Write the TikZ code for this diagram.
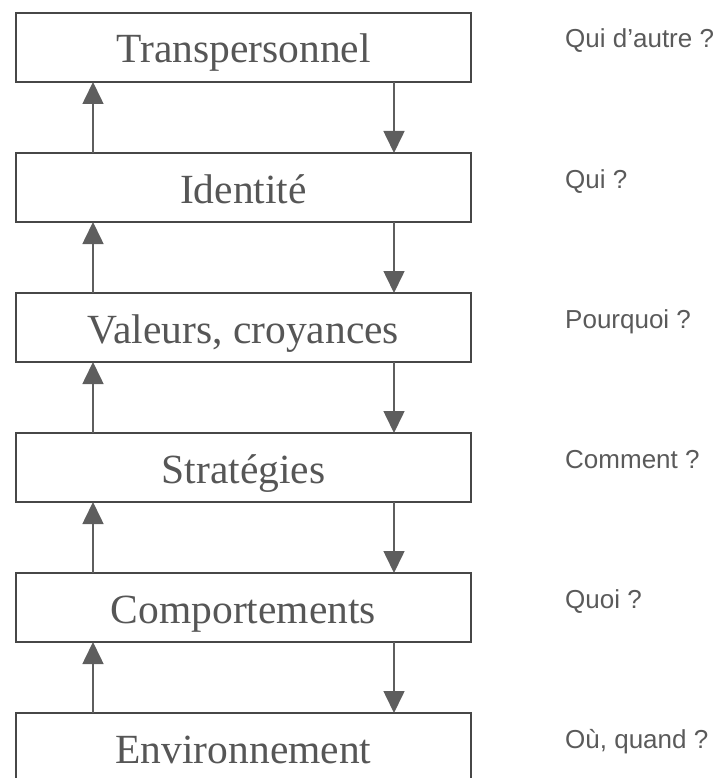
\documentclass[tikz,border=0pt]{standalone}
\usepackage{fontspec}
\setmainfont{Liberation Serif}
\newfontfamily\labelfont{Liberation Sans}
\usetikzlibrary{arrows.meta}
\definecolor{boxline}{HTML}{474747}
\definecolor{boxtext}{HTML}{565656}
\definecolor{arrowgray}{HTML}{5E5E5E}
\definecolor{labelgray}{HTML}{5A5A5A}
\tikzset{
  levelbox/.style={draw=boxline, line width=2pt, minimum width=455pt, minimum height=69pt,
    inner sep=0pt, outer sep=0pt, anchor=north west},
  leveltext/.style={text=boxtext, font=\fontsize{41.5pt}{44pt}\selectfont, anchor=base, inner sep=0pt},
  qlabel/.style={text=labelgray, font=\labelfont\fontsize{26pt}{28pt}\selectfont, anchor=base west, inner sep=0pt},
  flow/.style={draw=arrowgray, line width=1.6pt, -{Triangle[length=22pt,width=21pt]}, fill=arrowgray}
}
\begin{document}
\begin{tikzpicture}[x=1pt,y=-1pt]
\useasboundingbox (0,0) rectangle (716,778);
\clip (0,0) rectangle (716,778);
% boxes
\node[levelbox] (b1) at (16,13) {};
\node[levelbox] (b2) at (16,153) {};
\node[levelbox] (b3) at (16,293) {};
\node[levelbox] (b4) at (16,433) {};
\node[levelbox] (b5) at (16,573) {};
\node[levelbox] (b6) at (16,713) {};
% box texts
\node[leveltext] (t1) at (243.5,63) {Transpersonnel};
\node[leveltext] (t2) at (243.5,203) {Identité};
\node[leveltext] (t3) at (243.5,343) {Valeurs, croyances};
\node[leveltext] (t4) at (243.5,483) {Stratégies};
\node[leveltext] (t5) at (243.5,623) {Comportements};
\node[leveltext] (t6) at (243.5,763) {Environnement};
% arrow anchor points
\foreach \i in {1,...,6}{
  \coordinate (u\i) at ([xshift=77pt]b\i.north west);
  \coordinate (d\i) at ([xshift=378pt]b\i.south west);
}
\foreach \i in {1,...,5}{
  \coordinate (ub\i) at ([xshift=77pt]b\i.south west);
  \coordinate (dt\i) at ([xshift=378pt]b\i.north west);
}
\coordinate (dt6) at ([xshift=378pt]b6.north west);
% up arrows
\draw[flow] (u2) -- (ub1);
\draw[flow] (u3) -- (ub2);
\draw[flow] (u4) -- (ub3);
\draw[flow] (u5) -- (ub4);
\draw[flow] (u6) -- (ub5);
% down arrows
\draw[flow] (d1) -- (dt2);
\draw[flow] (d2) -- (dt3);
\draw[flow] (d3) -- (dt4);
\draw[flow] (d4) -- (dt5);
\draw[flow] (d5) -- (dt6);
% labels
\node[qlabel] (q1) at (565,48) {Qui d’autre ?};
\node[qlabel] (q2) at (565,188) {Qui ?};
\node[qlabel] (q3) at (565,328) {Pourquoi ?};
\node[qlabel] (q4) at (565,468) {Comment ?};
\node[qlabel] (q5) at (565,608) {Quoi ?};
\node[qlabel] (q6) at (565,748) {Où, quand ?};
\end{tikzpicture}
\end{document}
